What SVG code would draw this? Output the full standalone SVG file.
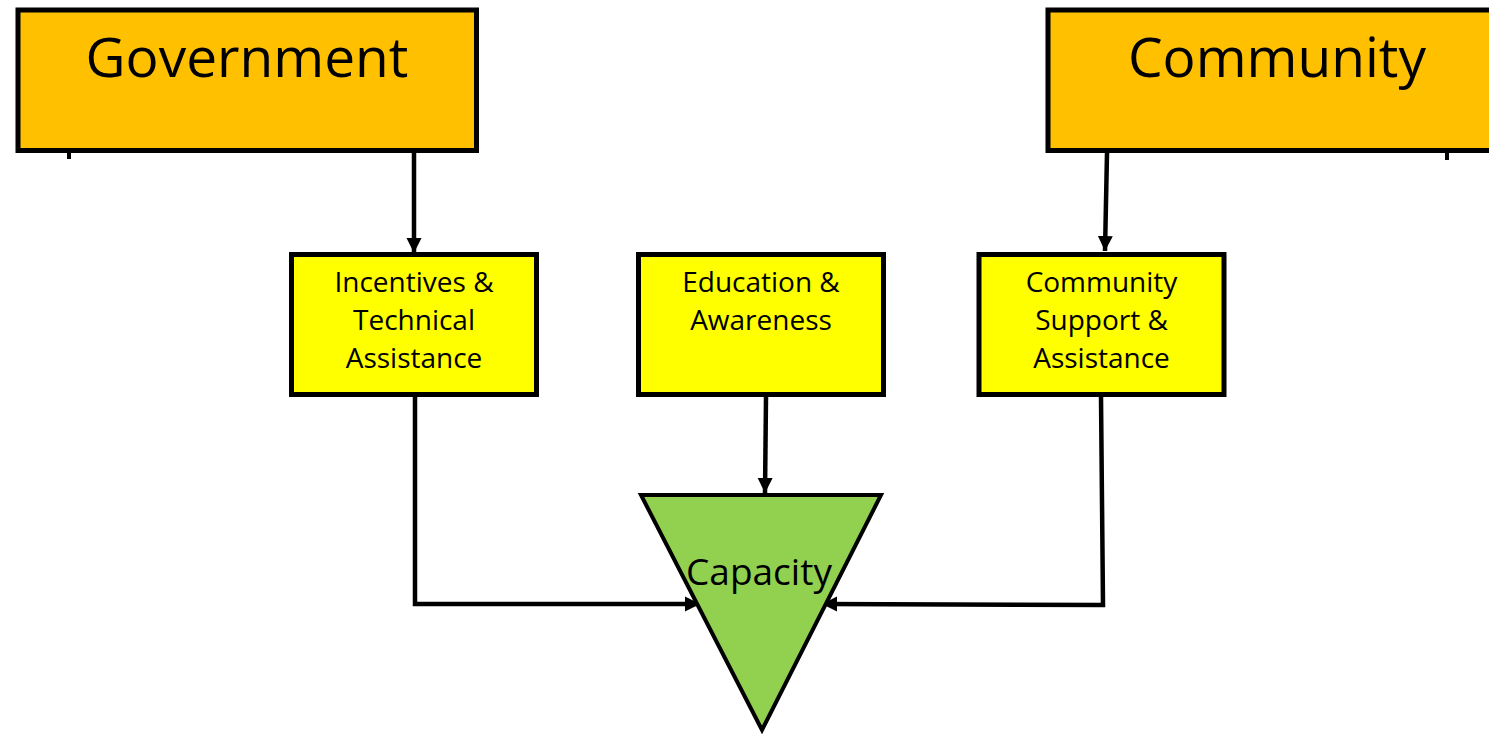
<svg xmlns="http://www.w3.org/2000/svg" width="1489" height="734" viewBox="0 0 1489 734">
<defs>
<style>
.big{fill:#FFC000;stroke:#000;stroke-width:5}
.box{fill:#FFFF00;stroke:#000;stroke-width:5}
.tri{fill:#92D050;stroke:#000;stroke-width:4;stroke-linejoin:miter}
.t{font-family:"Open Sans","Liberation Sans",sans-serif;fill:#000;text-anchor:middle}
.tb{font-size:55px}
.ts{font-size:28px}
.tc{font-size:37px}
.c{fill:none;stroke:#000;stroke-width:4.5;marker-end:url(#ah)}
.tick{stroke:#000;stroke-width:4}
</style>
<marker id="ah" viewBox="0 0 10 10" refX="10" refY="5" markerUnits="userSpaceOnUse" markerWidth="15" markerHeight="17" orient="auto">
<path d="M0,0 L10,5 L0,10 z" fill="#000"/>
</marker>
</defs>
<rect width="1489" height="734" fill="#fff"/>
<g id="connectors">
<line class="tick" x1="69" y1="152" x2="69" y2="159"/>
<line class="tick" x1="1447" y1="152" x2="1447" y2="160"/>
<path class="c" d="M414,153 L414,253"/>
<path class="c" d="M1107,153 L1105,251"/>
<path class="c" d="M766,397 L765,493"/>
<path class="c" d="M415,397 L415,604 L700,604"/>
<path class="c" d="M1101,397 L1103,605 L822,604"/>
</g>
<g id="government">
<rect class="big" x="18" y="10" width="458.5" height="140.5"/>
<text class="t tb" x="247" y="77">Government</text>
</g>
<g id="community">
<rect class="big" x="1048" y="10" width="460" height="140.5"/>
<text class="t tb" x="1277" y="77">Community</text>
</g>
<g id="incentives">
<rect class="box" x="291.5" y="254.5" width="245" height="140"/>
<text class="t ts" x="414" y="292">Incentives &amp;</text>
<text class="t ts" x="414" y="330">Technical</text>
<text class="t ts" x="414" y="368">Assistance</text>
</g>
<g id="education">
<rect class="box" x="638.5" y="254.5" width="245" height="140"/>
<text class="t ts" x="761" y="292">Education &amp;</text>
<text class="t ts" x="761" y="330">Awareness</text>
</g>
<g id="support">
<rect class="box" x="979" y="254.5" width="245" height="140"/>
<text class="t ts" x="1101.5" y="292">Community</text>
<text class="t ts" x="1101.5" y="330">Support &amp;</text>
<text class="t ts" x="1101.5" y="368">Assistance</text>
</g>
<g id="capacity">
<polygon class="tri" points="641,495 881,495 762,730"/>
<text class="t tc" x="759" y="585">Capacity</text>
</g>
</svg>
